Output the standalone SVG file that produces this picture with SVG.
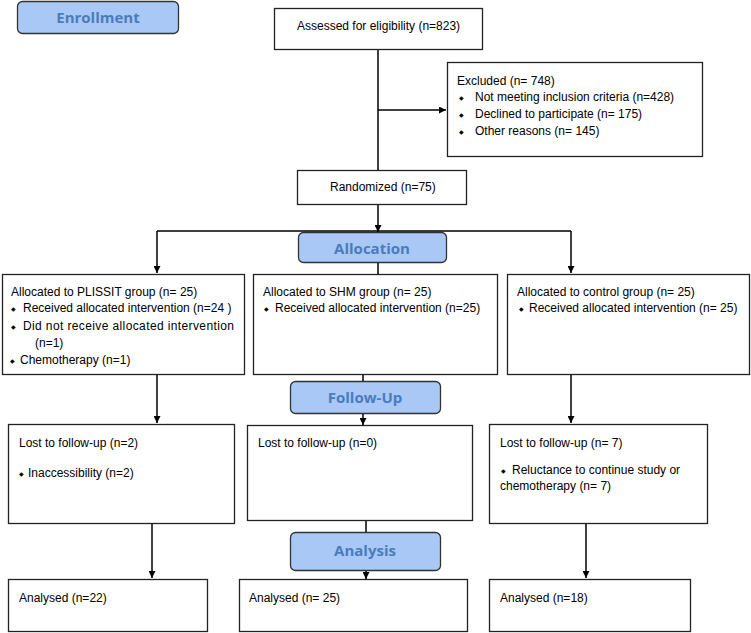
<svg xmlns="http://www.w3.org/2000/svg" width="751" height="633" viewBox="0 0 751 633">
<defs>
<marker id="ah" viewBox="0 0 10 10" refX="10" refY="5" markerWidth="7" markerHeight="7" markerUnits="userSpaceOnUse" orient="auto">
<path d="M0,0 L10,5 L0,10 z" fill="#000"/>
</marker>
<style>
.box{fill:#fff;stroke:#222;stroke-width:1.3}
.hdr{fill:#a9c8f6;stroke:#333;stroke-width:1.3}
.ht{font-family:"Open Sans","Noto Sans",sans-serif;font-weight:bold;font-size:15px;fill:#4a7cbc;text-anchor:middle}
.t{font-family:"Liberation Sans",Arial,sans-serif;font-size:12px;fill:#000}
.b{font-family:"DejaVu Sans",sans-serif;font-size:6px;fill:#000}
.c{fill:none;stroke:#000;stroke-width:1.5}
</style>
</defs>
<g id="enrollment"><rect class="hdr" x="17.5" y="1.5" width="161" height="32" rx="5"/><text class="ht" x="98" y="23">Enrollment</text></g>
<g id="assessed"><rect class="box" x="274.5" y="8.5" width="208" height="41"/><text class="t" x="297" y="30">Assessed for eligibility (n=823)</text></g>
<g id="excluded"><rect class="box" x="447.5" y="62.5" width="255" height="94"/>
<text class="t" x="457" y="85">Excluded (n= 748)</text>
<text class="b" x="459" y="100">◆</text><text class="t" x="475" y="101">Not meeting inclusion criteria (n=428)</text>
<text class="b" x="459" y="117">◆</text><text class="t" x="475" y="118">Declined to participate (n= 175)</text>
<text class="b" x="459" y="134">◆</text><text class="t" x="475" y="135">Other reasons (n= 145)</text></g>
<g id="randomized"><rect class="box" x="297.5" y="170.5" width="169" height="34"/><text class="t" x="330" y="191">Randomized (n=75)</text></g>
<g id="allocation"><rect class="hdr" x="298.5" y="232.5" width="148" height="30" rx="5"/><text class="ht" x="372" y="254">Allocation</text></g>
<g id="plissit"><rect class="box" x="2.5" y="274.5" width="242" height="100"/>
<text class="t" x="11" y="296">Allocated to PLISSIT group (n= 25)</text>
<text class="b" x="11" y="311">◆</text><text class="t" x="23" y="312">Received allocated intervention (n=24 )</text>
<text class="b" x="11" y="329">◆</text><text class="t" x="23" y="330" textLength="211" lengthAdjust="spacing">Did not receive allocated intervention</text>
<text class="t" x="35" y="347">(n=1)</text>
<text class="b" x="10" y="363">◆</text><text class="t" x="20" y="364">Chemotherapy (n=1)</text></g>
<g id="shm"><rect class="box" x="253.5" y="274.5" width="244" height="100"/>
<text class="t" x="263" y="296">Allocated to SHM group (n= 25)</text>
<text class="b" x="264" y="311">◆</text><text class="t" x="275" y="312">Received allocated intervention (n=25)</text></g>
<g id="control"><rect class="box" x="507.5" y="274.5" width="242" height="100"/>
<text class="t" x="517" y="296">Allocated to control group (n= 25)</text>
<text class="b" x="519" y="311">◆</text><text class="t" x="529" y="312">Received allocated intervention (n= 25)</text></g>
<g id="followup"><rect class="hdr" x="290.5" y="381.5" width="150" height="32" rx="5"/><text class="ht" x="365" y="403">Follow-Up</text></g>
<g id="lost1"><rect class="box" x="8.5" y="424.5" width="226" height="99"/>
<text class="t" x="19" y="447">Lost to follow-up (n=2)</text>
<text class="b" x="19" y="476">◆</text><text class="t" x="28" y="477">Inaccessibility (n=2)</text></g>
<g id="lost2"><rect class="box" x="247.5" y="425.5" width="225" height="95"/>
<text class="t" x="258" y="447">Lost to follow-up (n=0)</text></g>
<g id="lost3"><rect class="box" x="489.5" y="424.5" width="218" height="99"/>
<text class="t" x="500" y="447">Lost to follow-up (n= 7)</text>
<text class="b" x="501" y="473">◆</text><text class="t" x="512" y="474">Reluctance to continue study or</text>
<text class="t" x="500" y="490">chemotherapy (n= 7)</text></g>
<g id="analysis"><rect class="hdr" x="290.5" y="532.5" width="150" height="38" rx="5"/><text class="ht" x="365" y="556">Analysis</text></g>
<g id="analysed1"><rect class="box" x="8.5" y="579.5" width="199" height="52"/><text class="t" x="19" y="602">Analysed (n=22)</text></g>
<g id="analysed2"><rect class="box" x="239.5" y="579.5" width="228" height="52"/><text class="t" x="249" y="602">Analysed (n= 25)</text></g>
<g id="analysed3"><rect class="box" x="489.5" y="579.5" width="201" height="52"/><text class="t" x="500" y="602">Analysed (n=18)</text></g>
<g id="connectors">
<path class="c" d="M378,50 V170"/>
<path class="c" d="M378,110 H446" marker-end="url(#ah)"/>
<path class="c" d="M378,205 V232" marker-end="url(#ah)"/>
<path class="c" d="M157,231 H571"/>
<path class="c" d="M157,231 V273" marker-end="url(#ah)"/>
<path class="c" d="M571,231 V273" marker-end="url(#ah)"/>
<path class="c" d="M378,263 V274"/>
<path class="c" d="M157,375 V423" marker-end="url(#ah)"/>
<path class="c" d="M363,375 V381"/>
<path class="c" d="M363,414 V425" marker-end="url(#ah)"/>
<path class="c" d="M571,375 V423" marker-end="url(#ah)"/>
<path class="c" d="M152,524 V578" marker-end="url(#ah)"/>
<path class="c" d="M366,521 V532"/>
<path class="c" d="M366,571 V579" marker-end="url(#ah)"/>
<path class="c" d="M586,524 V578" marker-end="url(#ah)"/>
</g>
</svg>
